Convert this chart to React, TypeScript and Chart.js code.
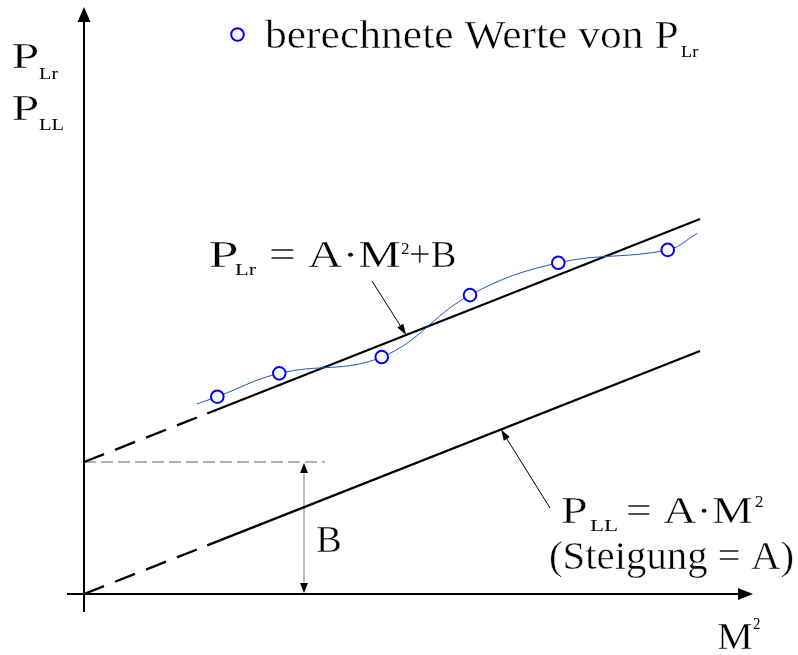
import { useEffect, useRef } from "react";
import { Chart, registerables } from "chart.js";

Chart.register(...registerables);

// Axis extents (M² horizontally, P vertically, arbitrary units)
const xMin = -1.364;
const xMax = 11.591;
const yMin = -2.51;
const yMax = 24.444;

// Intercept B of P_Lr = A·M² + B
const interceptB = 5.43;

// P_LL = A·M²: dashed from 0 to 2, solid afterwards
const pllX = [0, 2.0, 10];
const pllY = [0, 2.0, 10];

// P_Lr = A·M² + B: dashed from 0 to 2, solid afterwards
const plrX = [0, 2.0, 10];
const plrY = [5.43, 7.43, 15.43];

// Calculated values of P_Lr
const calcX = [2.164, 3.17, 4.833, 6.266, 7.7, 9.476];
const calcY = [8.12, 9.08, 9.75, 12.3, 13.63, 14.16];

// Smooth fit through the calculated values
const fitX = [1.834, 2.164, 3.17, 4.833, 6.266, 7.7, 9.476, 9.956];
const fitY = [7.82, 8.12, 9.08, 9.75, 12.3, 13.63, 14.16, 14.84];

const FONT = '"Liberation Serif", "Times New Roman", serif';

function zip(xs: number[], ys: number[]) {
  return xs.map((x, i) => ({ x, y: ys[i] }));
}

function lineAt(xs: number[], ys: number[], x: number) {
  for (let i = 0; i < xs.length - 1; i++) {
    if (x >= xs[i] && x <= xs[i + 1]) {
      const t = (x - xs[i]) / (xs[i + 1] - xs[i]);
      return ys[i] + t * (ys[i + 1] - ys[i]);
    }
  }
  return ys[ys.length - 1];
}

type Piece = { t: string; x: number; b: number; s: number; w: number };

// Text pieces: left edge, baseline, font size, ink width
const labels: Piece[] = [
  // legend
  { t: "berechnete Werte von P", x: 265, b: 48, s: 39, w: 413 },
  { t: "Lr", x: 681, b: 57, s: 16, w: 18 },
  // vertical axis title
  { t: "P", x: 13, b: 68, s: 36, w: 25 },
  { t: "Lr", x: 39, b: 79, s: 16, w: 20 },
  { t: "P", x: 13, b: 120, s: 36, w: 25 },
  { t: "LL", x: 39, b: 130, s: 16, w: 24 },
  // P_Lr = A·M²+B
  { t: "P", x: 210, b: 267, s: 38, w: 27 },
  { t: "Lr", x: 235, b: 275, s: 16, w: 22 },
  { t: "= A·M", x: 270, b: 267, s: 38, w: 130 },
  { t: "2", x: 401, b: 254, s: 17, w: 8 },
  { t: "+B", x: 410, b: 267, s: 38, w: 45 },
  // P_LL = A·M²
  { t: "P", x: 562, b: 523, s: 37, w: 25 },
  { t: "LL", x: 590, b: 531, s: 16, w: 27 },
  { t: "= A·M", x: 627, b: 523, s: 38, w: 125 },
  { t: "2", x: 755, b: 507, s: 17, w: 8 },
  { t: "(Steigung = A)", x: 550, b: 569, s: 39, w: 243 },
  // horizontal axis title
  { t: "M", x: 718, b: 649, s: 38, w: 34 },
  { t: "2", x: 753, b: 629, s: 17, w: 7 },
  // B
  { t: "B", x: 317, b: 552, s: 37, w: 23 },
];

function drawPiece(ctx: CanvasRenderingContext2D, p: Piece) {
  ctx.save();
  ctx.font = `${p.s}px ${FONT}`;
  ctx.fillStyle = "#000";
  ctx.textBaseline = "alphabetic";
  const m = ctx.measureText(p.t);
  const ink = m.actualBoundingBoxLeft + m.actualBoundingBoxRight;
  const sx = ink > 0 ? p.w / ink : 1;
  ctx.translate(p.x, p.b);
  ctx.scale(sx, 1);
  ctx.fillText(p.t, m.actualBoundingBoxLeft, 0);
  // a hairline white outline keeps the stretched glyphs light
  if (p.s > 30) {
    ctx.strokeStyle = "#fff";
    ctx.lineWidth = 0.45;
    ctx.lineJoin = "round";
    ctx.strokeText(p.t, m.actualBoundingBoxLeft, 0);
  }
  ctx.restore();
}

function arrowHead(
  ctx: CanvasRenderingContext2D,
  fx: number,
  fy: number,
  tx: number,
  ty: number,
  len: number,
  half: number,
  color: string
) {
  const a = Math.atan2(ty - fy, tx - fx);
  const bx = tx - len * Math.cos(a);
  const by = ty - len * Math.sin(a);
  ctx.save();
  ctx.fillStyle = color;
  ctx.beginPath();
  ctx.moveTo(tx, ty);
  ctx.lineTo(bx + half * Math.sin(a), by - half * Math.cos(a));
  ctx.lineTo(bx - half * Math.sin(a), by + half * Math.cos(a));
  ctx.closePath();
  ctx.fill();
  ctx.restore();
}

function arrowLine(
  ctx: CanvasRenderingContext2D,
  fx: number,
  fy: number,
  tx: number,
  ty: number,
  lw: number,
  color: string,
  headColor: string,
  len: number,
  half: number
) {
  const a = Math.atan2(ty - fy, tx - fx);
  ctx.save();
  ctx.strokeStyle = color;
  ctx.lineWidth = lw;
  ctx.beginPath();
  ctx.moveTo(fx, fy);
  ctx.lineTo(tx - (len - 1) * Math.cos(a), ty - (len - 1) * Math.sin(a));
  ctx.stroke();
  ctx.restore();
  arrowHead(ctx, fx, fy, tx, ty, len, half, headColor);
}

const decorations = {
  id: "decorations",
  beforeDraw(chart: Chart) {
    const ctx = chart.ctx;
    ctx.save();
    ctx.fillStyle = "#fff";
    ctx.fillRect(0, 0, chart.width, chart.height);
    ctx.restore();
  },
  beforeDatasetsDraw(chart: Chart) {
    const ctx = chart.ctx;
    const xs = chart.scales.x;
    const ys = chart.scales.y;
    const ox = xs.getPixelForValue(0);
    const oy = ys.getPixelForValue(0);
    const by = ys.getPixelForValue(interceptB);

    // axes with arrow heads
    ctx.save();
    ctx.strokeStyle = "#000";
    ctx.lineWidth = 2;
    ctx.beginPath();
    ctx.moveTo(ox, 612);
    ctx.lineTo(ox, 20);
    ctx.moveTo(67, oy);
    ctx.lineTo(740, oy);
    ctx.stroke();
    ctx.restore();
    arrowHead(ctx, ox, 100, ox, 7, 15, 6.5, "#000");
    arrowHead(ctx, 600, oy, 753, oy, 15, 6, "#000");

    // intercept guide
    ctx.save();
    ctx.strokeStyle = "#999";
    ctx.lineWidth = 1.5;
    ctx.setLineDash([12, 5]);
    ctx.beginPath();
    ctx.moveTo(ox, by);
    ctx.lineTo(xs.getPixelForValue(3.912), by);
    ctx.stroke();
    ctx.restore();

    // dimension arrow for B
    const dx = xs.getPixelForValue(3.571);
    ctx.save();
    ctx.strokeStyle = "#aaa";
    ctx.lineWidth = 1.5;
    ctx.beginPath();
    ctx.moveTo(dx, by + 8);
    ctx.lineTo(dx, oy - 8);
    ctx.stroke();
    ctx.restore();
    arrowHead(ctx, dx, oy, dx, by + 1, 10, 4, "#000");
    arrowHead(ctx, dx, by, dx, oy - 1, 10, 4, "#000");
  },
  afterDraw(chart: Chart) {
    const ctx = chart.ctx;
    const xs = chart.scales.x;
    const ys = chart.scales.y;

    // leader arrows to the two lines
    const t1x = 5.23;
    arrowLine(
      ctx,
      xs.getPixelForValue(4.675),
      ys.getPixelForValue(12.88),
      xs.getPixelForValue(t1x),
      ys.getPixelForValue(lineAt(plrX, plrY, t1x)),
      1,
      "#000",
      "#000",
      11,
      3.5
    );
    const t2x = 6.77;
    arrowLine(
      ctx,
      xs.getPixelForValue(7.565),
      ys.getPixelForValue(3.54),
      xs.getPixelForValue(t2x),
      ys.getPixelForValue(lineAt(pllX, pllY, t2x)),
      1,
      "#000",
      "#000",
      11,
      3.5
    );

    // legend marker
    ctx.save();
    ctx.strokeStyle = "#0000ff";
    ctx.fillStyle = "#fff";
    ctx.lineWidth = 2;
    ctx.beginPath();
    ctx.arc(237.5, 34.5, 6.3, 0, Math.PI * 2);
    ctx.fill();
    ctx.stroke();
    ctx.restore();

    labels.forEach((p) => drawPiece(ctx, p));
  },
};

const dashFirst = [21.5, 11.8];

export default function App() {
  const ref = useRef<HTMLCanvasElement | null>(null);

  useEffect(() => {
    if (!ref.current) return;
    const chart = new Chart(ref.current, {
      type: "scatter",
      data: {
        datasets: [
          {
            label: "berechnete Werte von P_Lr",
            data: zip(calcX, calcY),
            showLine: false,
            pointRadius: 6.3,
            pointBorderWidth: 2,
            pointBorderColor: "#0000ff",
            pointBackgroundColor: "#ffffff",
            order: 0,
          },
          {
            label: "fit",
            data: zip(fitX, fitY),
            showLine: true,
            tension: 0.4,
            borderColor: "#1f55c0",
            borderWidth: 1,
            pointRadius: 0,
            order: 1,
          },
          {
            label: "P_Lr = A·M²+B",
            data: zip(plrX, plrY),
            showLine: true,
            borderColor: "#000",
            borderWidth: 2.3,
            pointRadius: 0,
            segment: {
              borderDash: (c: any) => (c.p0DataIndex === 0 ? dashFirst : undefined),
            },
            order: 2,
          },
          {
            label: "P_LL = A·M²",
            data: zip(pllX, pllY),
            showLine: true,
            borderColor: "#000",
            borderWidth: 2.3,
            pointRadius: 0,
            segment: {
              borderDash: (c: any) => (c.p0DataIndex === 0 ? dashFirst : undefined),
            },
            order: 3,
          },
        ],
      },
      options: {
        responsive: false,
        animation: false,
        events: [],
        layout: { padding: 0, autoPadding: false },
        plugins: {
          legend: { display: false },
          tooltip: { enabled: false },
        },
        scales: {
          x: { type: "linear", min: xMin, max: xMax, display: false },
          y: { type: "linear", min: yMin, max: yMax, display: false },
        },
      },
      plugins: [decorations],
    });
    return () => chart.destroy();
  }, []);

  return (
    <div
      style={{
        position: "fixed",
        left: 0,
        top: 0,
        width: 798,
        height: 655,
        background: "#fff",
      }}
    >
      <canvas ref={ref} width={798} height={655} style={{ display: "block" }} />
    </div>
  );
}
